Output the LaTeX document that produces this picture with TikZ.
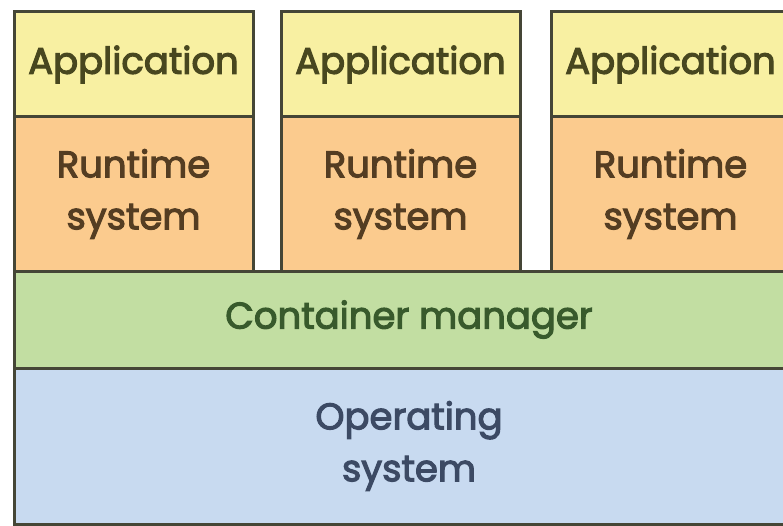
\documentclass[tikz,border=0pt]{standalone}
\usepackage{fontspec}
\setmainfont{Poppins}[FakeBold=3]
\usetikzlibrary{positioning}

\definecolor{appyellow}{HTML}{F8F0A2}
\definecolor{rtorange}{HTML}{FBCB8E}
\definecolor{mgrgreen}{HTML}{C2DEA2}
\definecolor{osblue}{HTML}{C8DAF0}
\definecolor{edge}{HTML}{454636}
\definecolor{apptext}{HTML}{48471F}
\definecolor{rttext}{HTML}{543D22}
\definecolor{mgrtext}{HTML}{385A2C}
\definecolor{ostext}{HTML}{3C4A64}

\tikzset{
  layer/.style={draw=edge, line width=3pt, rectangle, outer sep=0pt, inner sep=0pt,
    align=center, font=\fontsize{37}{52}\selectfont},
  appbox/.style={layer, fill=appyellow, text=apptext, minimum width=239pt, minimum height=105pt},
  rtbox/.style={layer, fill=rtorange, text=rttext, minimum width=239pt, minimum height=154pt},
}

\begin{document}
\begin{tikzpicture}[x=1pt, y=-1pt]
    \useasboundingbox (0,0) rectangle (783,526);
    \fill[white] (0,0) rectangle (783,526);

    % three containers
    \node (app1) [appbox, anchor=north west] at (14,12) {Application};
    \node (rt1) [rtbox, below=0pt of app1] {Runtime\\system};
    \node (app2) [appbox, anchor=north west] at (281,12) {Application};
    \node (rt2) [rtbox, below=0pt of app2] {Runtime\\system};
    \node (app3) [appbox, anchor=north west] at (551,12) {Application};
    \node (rt3) [rtbox, below=0pt of app3] {Runtime\\system};

    % shared layers
    \node (mgr) [layer, fill=mgrgreen, text=mgrtext, minimum width=790pt, minimum height=97pt,
      anchor=north west] at (14,271) {Container manager};
    \node (os) [layer, fill=osblue, text=ostext, minimum width=790pt, minimum height=156pt,
      below=0pt of mgr] {Operating\\system};
\end{tikzpicture}
\end{document}
